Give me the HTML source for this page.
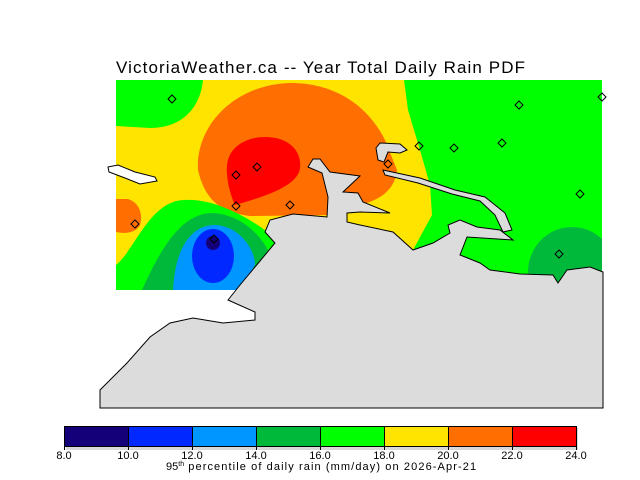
<!DOCTYPE html>
<html><head><style>body{margin:0;background:#fff}svg{display:block}</style></head><body>
<svg width="640" height="480" xmlns="http://www.w3.org/2000/svg" font-family="Liberation Sans, DejaVu Sans, sans-serif">
<defs><clipPath id="m"><rect x="116" y="80" width="486" height="210"/></clipPath></defs>
<text x="116" y="73" font-size="17" fill="#000" textLength="409" lengthAdjust="spacing">VictoriaWeather.ca -- Year Total Daily Rain PDF</text>
<g clip-path="url(#m)">
<rect x="116" y="80" width="486" height="210" fill="#ffe400"/>
<path d="M404,80 L602,80 L602,290 L413,290 L413,250 L432,215 L430,185 L420,150 L408,110 Z" fill="#00ff00"/>
<path d="M116,80 L203,80 C200,110 180,128 150,128 L116,126 Z" fill="#00ff00"/>
<path d="M290,83 C340,83 370,110 385,140 L397,170 C395,190 380,200 360,205 L330,215 L250,216 C220,212 205,200 198,170 C195,130 230,85 290,83 Z" fill="#ff6e00"/>
<path d="M265,137 C290,137 302,152 300,168 C298,185 270,195 235,205 C228,190 225,170 228,160 C232,145 248,137 265,137 Z" fill="#ff0000"/>
<path d="M116,199 L128,199 C140,203 143,215 140,225 C136,233 125,234 116,232 Z" fill="#ff6e00"/>
<path d="M116,290 L116,265 C135,250 150,200 185,200 C220,198 260,225 278,240 L265,255 L240,290 Z" fill="#00ff00"/>
<path d="M142,290 C160,250 180,215 210,213 C240,213 260,235 268,250 L245,290 Z" fill="#00b93a"/>
<path d="M173,290 C175,250 190,225 215,225 C240,226 255,250 255,265 L240,290 Z" fill="#0096ff"/>
<ellipse cx="213" cy="256" rx="21" ry="27" fill="#0028ff"/>
<circle cx="213" cy="243" r="7" fill="#140078"/>
<ellipse cx="572" cy="272" rx="44" ry="45" fill="#00b93a"/>
</g>
<path d="M100,408 L100,390 L127,363 L150,337 L170,323 L193,318 L223,323 L255,320 L255,312 L228,300 L240,285 L275,243 L265,232 L270,220 L293,214 L327,217 L328,197 L322,173 L308,167 L313,159 L320,159 L330,172 L360,176 L343,192 L358,193 L363,202 L390,213 L360,212 L347,213 L347,222 L360,225 L393,232 L413,250 L433,243 L450,233 L448,225 L460,220 L477,227 L500,230 L513,240 L467,237 L460,255 L480,263 L490,270 L520,274 L553,275 L558,283 L567,270 L590,267 L603,272 L603,408 Z" fill="#dcdcdc" stroke="#000" stroke-width="1"/>
<path d="M383,170 L420,178 L455,190 L485,197 L505,213 L512,230 L503,232 L495,215 L480,201 L452,194 L418,183 L385,175 Z" fill="#dcdcdc" stroke="#000" stroke-width="1"/>
<path d="M376,148 L380,143 L400,144 L407,150 L400,153 L388,152 L384,162 L378,160 Z" fill="#dcdcdc" stroke="#000" stroke-width="1"/>
<path d="M108,167 L118,165 L135,172 L155,177 L157,181 L140,184 L125,178 L109,172 Z" fill="#fff" stroke="#000" stroke-width="1"/>
<g fill="none" stroke="#000" stroke-width="1">
<path d="M172,95 l4,4 l-4,4 l-4,-4 z M519,101 l4,4 l-4,4 l-4,-4 z M602,93 l4,4 l-4,4 l-4,-4 z M419,142 l4,4 l-4,4 l-4,-4 z M454,144 l4,4 l-4,4 l-4,-4 z M502,139 l4,4 l-4,4 l-4,-4 z M257,163 l4,4 l-4,4 l-4,-4 z M236,171 l4,4 l-4,4 l-4,-4 z M236,202 l4,4 l-4,4 l-4,-4 z M290,201 l4,4 l-4,4 l-4,-4 z M388,160 l4,4 l-4,4 l-4,-4 z M135,220 l4,4 l-4,4 l-4,-4 z M214,235 l4,4 l-4,4 l-4,-4 z M580,190 l4,4 l-4,4 l-4,-4 z M559,250 l4,4 l-4,4 l-4,-4 z"/>
</g>
<rect x="66" y="428" width="512" height="22" fill="#d8d8d8"/>
<rect x="64" y="426" width="64" height="20" fill="#140078"/>
<rect x="128" y="426" width="64" height="20" fill="#0028ff"/>
<rect x="192" y="426" width="64" height="20" fill="#0096ff"/>
<rect x="256" y="426" width="64" height="20" fill="#00b93a"/>
<rect x="320" y="426" width="64" height="20" fill="#00ff00"/>
<rect x="384" y="426" width="64" height="20" fill="#ffe400"/>
<rect x="448" y="426" width="64" height="20" fill="#ff6e00"/>
<rect x="512" y="426" width="64" height="20" fill="#ff0000"/>
<g stroke="#000" stroke-width="1" fill="none">
<rect x="64.5" y="426.5" width="512" height="20"/>
<path d="M128.5,426 V450 M192.5,426 V450 M256.5,426 V450 M320.5,426 V450 M384.5,426 V450 M448.5,426 V450 M512.5,426 V450 M64.5,446 V450 M576.5,446 V450"/>
</g>
<g font-size="11" text-anchor="middle" fill="#000">
<text x="64" y="459">8.0</text><text x="128" y="459">10.0</text><text x="192" y="459">12.0</text><text x="256" y="459">14.0</text><text x="320" y="459">16.0</text><text x="384" y="459">18.0</text><text x="448" y="459">20.0</text><text x="512" y="459">22.0</text><text x="576" y="459">24.0</text>
</g>
<text x="166" y="470" font-size="11" fill="#000">95<tspan font-size="7" dy="-4">th</tspan><tspan dy="4" textLength="292" lengthAdjust="spacing"> percentile of daily rain (mm/day) on 2026-Apr-21</tspan></text>
</svg>
</body></html>
